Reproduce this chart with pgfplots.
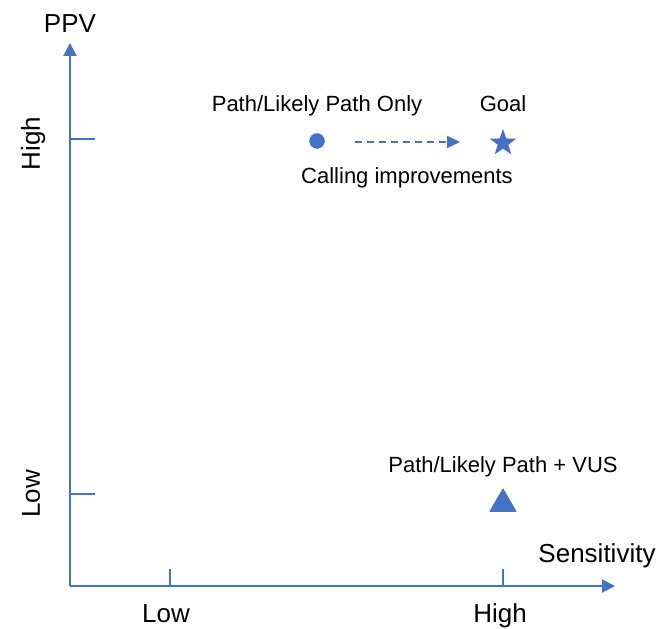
\documentclass[border=0pt]{standalone}
\usepackage{pgfplots}
\pgfplotsset{compat=1.18}
\usepackage{fontspec}
\setmainfont{Liberation Sans}
\usetikzlibrary{arrows.meta}
\definecolor{cblue}{HTML}{4472C4}
\pgfdeclareplotmark{fstar}{%
  \pgfpathmoveto{\pgfpointpolar{90}{\pgfplotmarksize}}%
  \pgfpathlineto{\pgfpointpolar{126}{0.40\pgfplotmarksize}}%
  \pgfpathlineto{\pgfpointpolar{162}{\pgfplotmarksize}}%
  \pgfpathlineto{\pgfpointpolar{198}{0.40\pgfplotmarksize}}%
  \pgfpathlineto{\pgfpointpolar{234}{\pgfplotmarksize}}%
  \pgfpathlineto{\pgfpointpolar{270}{0.40\pgfplotmarksize}}%
  \pgfpathlineto{\pgfpointpolar{306}{\pgfplotmarksize}}%
  \pgfpathlineto{\pgfpointpolar{342}{0.40\pgfplotmarksize}}%
  \pgfpathlineto{\pgfpointpolar{18}{\pgfplotmarksize}}%
  \pgfpathlineto{\pgfpointpolar{54}{0.40\pgfplotmarksize}}%
  \pgfpathclose
  \pgfusepathqfill
}
\begin{document}
\begin{tikzpicture}
\begin{axis}[
  x=1bp, y=1bp,
  xmin=70, xmax=615, ymin=43, ymax=586,
  axis lines=left,
  axis line style={cblue, line width=2bp, -{Triangle[length=13bp,width=13bp]}},
  xtick=\empty, ytick=\empty,
  clip=false,
]
% tick marks
\addplot[cblue, line width=1.4bp] coordinates {(70,490) (95,490)};
\addplot[cblue, line width=1.4bp] coordinates {(70,135) (95,135)};
\addplot[cblue, line width=1.4bp] coordinates {(170,43) (170,60)};
\addplot[cblue, line width=1.4bp] coordinates {(503,43) (503,60)};
% points
\addplot[only marks, mark=*, mark size=7.5bp, cblue, mark options={fill=cblue, draw=cblue}] coordinates {(317,488)};
\addplot[only marks, mark=fstar, mark size=14bp, cblue, mark options={fill=cblue}] coordinates {(503,486)};
\addplot[only marks, mark=triangle*, mark size=15bp, cblue, mark options={fill=cblue, draw=cblue, line width=1bp, line join=round}] coordinates {(503,125)};
% dashed arrow
\addplot[cblue, line width=2bp, dash pattern=on 7bp off 5bp, -{Triangle[length=13bp,width=12bp]}] coordinates {(355,487) (460,487)};
% labels
\node[anchor=base, font=\fontsize{26bp}{30bp}\selectfont] at (axis cs:70,596) {PPV};
\node[anchor=base, font=\fontsize{26bp}{30bp}\selectfont] at (axis cs:597,66) {Sensitivity};
\node[anchor=base, font=\fontsize{26bp}{30bp}\selectfont] at (axis cs:166,7) {Low};
\node[anchor=base, font=\fontsize{26bp}{30bp}\selectfont] at (axis cs:500,7) {High};
\node[anchor=base, rotate=90, font=\fontsize{26bp}{30bp}\selectfont] at (axis cs:40,485.5) {High};
\node[anchor=base, rotate=90, font=\fontsize{26bp}{30bp}\selectfont] at (axis cs:40,135) {Low};
\node[anchor=base, font=\fontsize{22bp}{26bp}\selectfont] at (axis cs:317,517) {Path/Likely Path Only};
\node[anchor=base, font=\fontsize{22bp}{26bp}\selectfont] at (axis cs:503,517) {Goal};
\node[anchor=base, font=\fontsize{22bp}{26bp}\selectfont] at (axis cs:407,445) {Calling improvements};
\node[anchor=base, font=\fontsize{22bp}{26bp}\selectfont] at (axis cs:503,156) {Path/Likely Path + VUS};
\coordinate (bl) at (axis cs:0,0);
\coordinate (tr) at (axis cs:672,629);
\end{axis}
\pgfresetboundingbox
\path[use as bounding box] (bl) rectangle (tr);
\end{tikzpicture}
\end{document}
